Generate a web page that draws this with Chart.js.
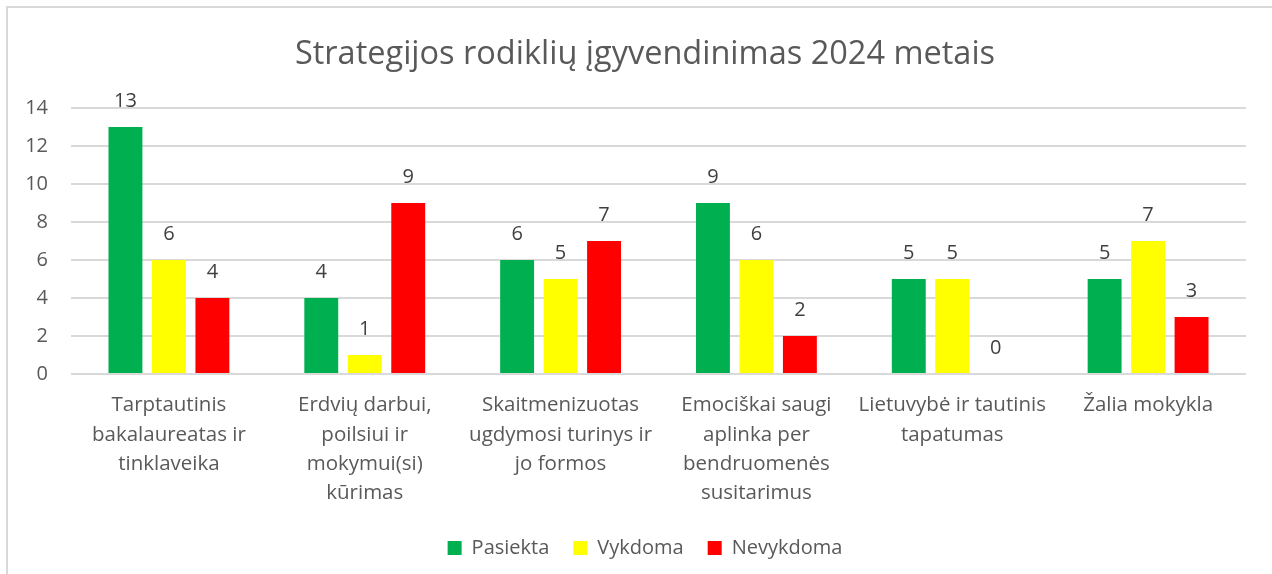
<!DOCTYPE html>
<html>
<head>
<meta charset="utf-8">
<script src="https://cdn.jsdelivr.net/npm/chart.js@4.4.1/dist/chart.umd.min.js"></script>
<style>
  html, body { margin: 0; padding: 0; background: #fff; overflow: hidden; }
  #frame { position: absolute; left: 6px; top: 6px; width: 1300px; height: 600px; border: 2px solid #d9d9d9; }
  #wrap { position: absolute; left: 0; top: 0; width: 1272px; height: 574px; }
</style>
</head>
<body>
<div id="frame"></div>
<div id="wrap"><canvas id="chart" width="1272" height="574"></canvas></div>
<script>
// --- DONNÉES ---
const categories = [
    ['Tarptautinis', 'bakalaureatas ir', 'tinklaveika'],
    ['Erdvių darbui,', 'poilsiui ir', 'mokymui(si)', 'kūrimas'],
    ['Skaitmenizuotas', 'ugdymosi turinys ir', 'jo formos'],
    ['Emociškai saugi', 'aplinka per', 'bendruomenės', 'susitarimus'],
    ['Lietuvybė ir tautinis', 'tapatumas'],
    ['Žalia mokykla']
];
const pasiekta = [13, 4, 6, 9, 5, 5];
const vykdoma = [6, 1, 5, 6, 5, 7];
const nevykdoma = [4, 9, 7, 2, 0, 3];
const yTicks = [0, 2, 4, 6, 8, 10, 12, 14];

const FONT = '"Open Sans", Lato, sans-serif';

// Étiquettes de valeur au-dessus des barres
const valueLabels = {
    id: 'valueLabels',
    afterDatasetsDraw(chart) {
        const ctx = chart.ctx;
        ctx.save();
        ctx.font = '20px ' + FONT;
        ctx.fillStyle = '#404040';
        ctx.textAlign = 'center';
        ctx.textBaseline = 'middle';
        chart.data.datasets.forEach((ds, i) => {
            chart.getDatasetMeta(i).data.forEach((bar, j) => {
                ctx.fillText(String(ds.data[j]), bar.x, bar.y - 26);
            });
        });
        ctx.restore();
    }
};

// Graduations de l'axe Y (dessinées hors de la zone de l'axe, sans découpe)
const yLabels = {
    id: 'yLabels',
    afterDraw(chart) {
        const ctx = chart.ctx;
        const y = chart.scales.y;
        ctx.save();
        ctx.font = '20px ' + FONT;
        ctx.fillStyle = '#595959';
        ctx.textAlign = 'right';
        ctx.textBaseline = 'middle';
        yTicks.forEach(v => ctx.fillText(String(v), chart.chartArea.left - 23, y.getPixelForValue(v)));
        ctx.restore();
    }
};

new Chart(document.getElementById('chart').getContext('2d'), {
    type: 'bar',
    data: {
        labels: categories,
        datasets: [
            { label: 'Pasiekta', data: pasiekta, backgroundColor: '#00b050' },
            { label: 'Vykdoma', data: vykdoma, backgroundColor: '#ffff00' },
            { label: 'Nevykdoma', data: nevykdoma, backgroundColor: '#ff0000' }
        ]
    },
    options: {
        responsive: false,
        animation: false,
        categoryPercentage: 0.666,
        barPercentage: 0.78,
        // padding gauche : centre titre et légende comme dans Excel
        layout: { padding: { left: 44, right: 26, top: 0, bottom: 6 } },
        plugins: {
            title: {
                display: true,
                text: 'Strategijos rodiklių įgyvendinimas 2024 metais',
                color: '#595959',
                font: { family: FONT, size: 32.5, weight: 'normal' },
                padding: { top: 35, bottom: 34 }
            },
            legend: {
                position: 'bottom',
                labels: {
                    color: '#595959',
                    font: { family: FONT, size: 20 },
                    boxWidth: 14,
                    boxHeight: 14,
                    padding: 24
                }
            },
            tooltip: { enabled: false }
        },
        scales: {
            x: {
                grid: { display: false, drawTicks: false },
                border: { display: false },
                ticks: {
                    color: '#595959',
                    font: { family: FONT, size: 20.5, lineHeight: 1.42 },
                    padding: 17,
                    maxRotation: 0,
                    autoSkip: false
                },
                afterFit(scale) { scale.height = 140; }
            },
            y: {
                min: 0,
                max: 14,
                afterBuildTicks(scale) { scale.ticks = yTicks.map(v => ({ value: v })); },
                grid: { color: '#d9d9d9', lineWidth: 2, drawTicks: false },
                border: { display: false },
                ticks: { display: false },
                afterFit(scale) { scale.width = 27; }
            }
        }
    },
    plugins: [valueLabels, yLabels]
});
</script>
</body>
</html>
